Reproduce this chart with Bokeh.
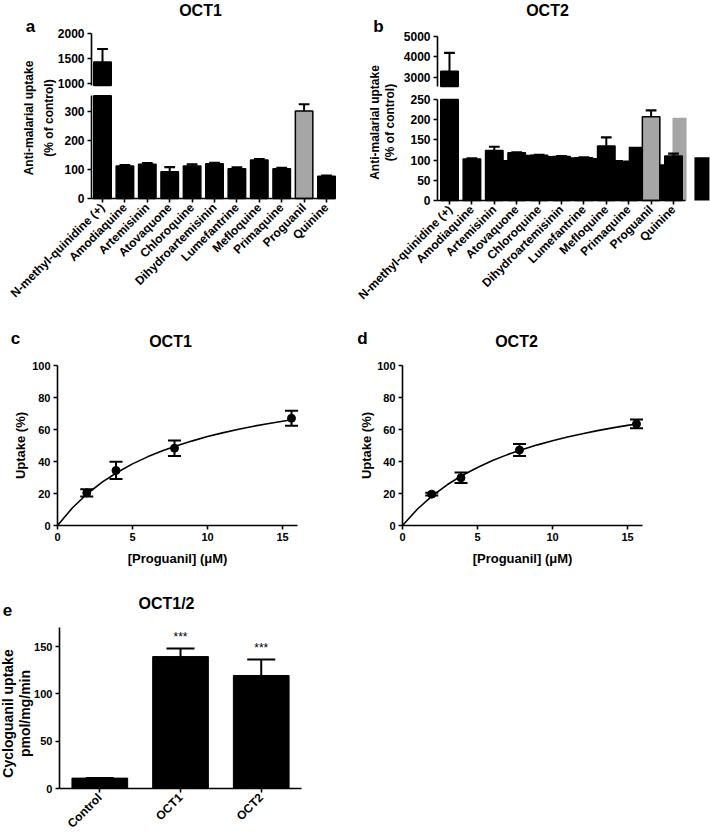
import numpy as np
from bokeh.plotting import figure
from bokeh.models import (Range1d, LinearAxis, FixedTicker, Whisker, TeeHead, ColumnDataSource)
from bokeh.layouts import row, column
from bokeh.embed import file_html
from bokeh.resources import INLINE
from bokeh.core.properties import value

FONT = "Liberation Sans"
GREY = "#a6a6a6"

# ---------------- data ----------------
drugs = ["N-methyl-quinidine (+)", "Amodiaquine", "Artemisinin", "Atovaquone", "Chloroquine",
         "Dihydroartemisinin", "Lumefantrine", "Mefloquine", "Primaquine", "Proguanil", "Quinine"]
bar_colors = ["black"] * 9 + [GREY, "black"]

oct1_uptake = [1430, 112, 118, 92, 112, 120, 103, 133, 103, 302, 77]
oct1_err = [260, 3, 4, 16, 6, 3, 4, 3, 3, 23, 2]

oct2_uptake = [3300, 103, 124, 118, 112, 109, 106, 135, 95, 207, 110]
oct2_err = [900, 1, 9, 1, 1, 1, 1, 21, 1, 16, 6]
# further bars visible in the source image of panel b
oct2_extra_x = [2.5, 3.5, 4.5, 5.5, 6.5, 7.5, 8.35, 9.45, 10.27, 11.27]
oct2_extra_val = [100, 113, 110, 107, 105, 100, 133, 90, 205, 107]
oct2_extra_w = [0.5, 0.5, 0.5, 0.5, 0.5, 0.5, 0.7, 0.35, 0.63, 0.67]
oct2_extra_col = ["black"] * 8 + [GREY, "black"]

conc = [1.95, 3.9, 7.8, 15.6]
c_uptake = [20.4, 34.4, 48.3, 67.0]
c_sem = [2.2, 5.4, 4.8, 4.7]
c_fit_x = [0, 1, 2, 3, 4, 5, 6, 7, 8, 9, 10, 11, 12, 13, 14, 15, 15.6]
c_fit_y = [0, 11.1, 20.0, 27.3, 33.3, 38.5, 42.9, 46.7, 50.0, 52.9, 55.6, 57.9, 60.0, 61.9, 63.6, 65.2, 66.1]

d_uptake = [19.6, 29.8, 47.2, 63.5]
d_sem = [0.8, 3.3, 3.8, 2.7]
d_fit_x = [0, 1, 2, 3, 4, 5, 6, 7, 8, 9, 10, 11, 12, 13, 14, 15, 15.6]
d_fit_y = [0, 10.3, 18.7, 25.6, 31.4, 36.3, 40.6, 44.3, 47.5, 50.4, 53.0, 55.3, 57.4, 59.3, 61.0, 62.6, 63.4]

e_cats = ["Control", "OCT1", "OCT2"]
e_uptake = [11, 139.5, 119.5]
e_err = [0, 8.5, 17]
e_marks = ["", "***", "***"]


# ---------------- helpers ----------------
class Panel:
    """A figure whose frame is the whole canvas; axes sit at fixed data locations."""

    def __init__(self, w, h, xr, yr):
        self.w, self.h, self.xr, self.yr = w, h, xr, yr
        p = figure(width=w, height=h, x_range=Range1d(*xr), y_range=Range1d(*yr),
                   output_backend="svg", toolbar_location=None,
                   x_axis_location=None, y_axis_location=None,
                   min_border=0, min_border_left=0, min_border_right=0,
                   min_border_top=0, min_border_bottom=0)
        p.xgrid.visible = False
        p.ygrid.visible = False
        p.outline_line_color = None
        p.background_fill_color = "white"
        p.border_fill_color = "white"
        self.p = p

    def to_data(self, X, Y):
        x = self.xr[0] + X / self.w * (self.xr[1] - self.xr[0])
        y = self.yr[1] - Y / self.h * (self.yr[1] - self.yr[0])
        return x, y

    def text(self, txt, X, Y, size="16px", angle=0.0, style="bold", lh=1.2):
        x, y = self.to_data(X, Y)
        self.p.text(x=[x], y=[y], text=[txt], angle=angle, text_align="center",
                    text_baseline="middle", text_font=value(FONT), text_font_style=style,
                    text_font_size=size, text_color="black", text_line_height=lh)


def style_axis(ax, size="12px"):
    ax.axis_line_width = 1.6
    ax.axis_line_color = "black"
    ax.major_tick_line_width = 1.6
    ax.major_tick_line_color = "black"
    ax.major_tick_out = 4
    ax.major_tick_in = 0
    ax.minor_tick_line_color = None
    ax.major_label_text_font = FONT
    ax.major_label_text_font_style = "bold"
    ax.major_label_text_font_size = size
    ax.major_label_text_color = "black"
    ax.major_label_standoff = 3


def add_axis(p, side, loc, bounds, ticks, size="12px", overrides=None, orient=None,
             y_range_name="default"):
    ax = LinearAxis(fixed_location=loc, bounds=bounds, ticker=FixedTicker(ticks=ticks),
                    y_range_name=y_range_name)
    style_axis(ax, size)
    if overrides is not None:
        ax.major_label_overrides = overrides
    if orient is not None:
        ax.major_label_orientation = orient
    p.add_layout(ax, side)
    return ax


def broken_panel(vals, errs, colors, xr, yr, hi_range, y_loc, x_end, lo_top, lo_ticks,
                 hi_bottom, hi_top, hi_ticks, w, h, extra=None):
    P = Panel(w, h, xr, yr)
    p = P.p
    p.extra_y_ranges = {"hi": Range1d(*hi_range)}
    x = np.arange(len(vals), dtype=float)
    v = np.array(vals, float)
    e = np.array(errs, float)
    broken = v > lo_top
    nb = ~broken
    if extra is not None:
        ex, ev, ew, ec = extra
        p.vbar(x=ex, top=ev, width=ew, fill_color=ec, line_color=ec, line_width=0)
    p.vbar(x=x, top=np.minimum(v, lo_top), width=0.78, fill_color=colors, line_color="black",
           line_width=1.5)
    p.vbar(x=x[broken], bottom=hi_bottom, top=v[broken], width=0.78,
           fill_color=[c for c, b in zip(colors, broken) if b], line_color="black",
           line_width=1.5, y_range_name="hi")
    cw = 0.24
    p.segment(x0=x[nb], y0=v[nb], x1=x[nb], y1=(v + e)[nb], line_color="black", line_width=2)
    p.segment(x0=x[nb] - cw, y0=(v + e)[nb], x1=x[nb] + cw, y1=(v + e)[nb],
              line_color="black", line_width=2.2)
    p.segment(x0=x[broken], y0=v[broken], x1=x[broken], y1=(v + e)[broken],
              line_color="black", line_width=2, y_range_name="hi")
    p.segment(x0=x[broken] - cw, y0=(v + e)[broken], x1=x[broken] + cw, y1=(v + e)[broken],
              line_color="black", line_width=2.2, y_range_name="hi")

    add_axis(p, "below", 0, (y_loc, x_end), list(range(len(vals))), "12px",
             overrides={i: d for i, d in enumerate(drugs)}, orient=np.pi / 4)
    add_axis(p, "left", y_loc, (0, lo_top), lo_ticks, "12px")
    add_axis(p, "left", y_loc, (hi_bottom, hi_top), hi_ticks, "12px", y_range_name="hi")
    return P


# ---------------- panel a ----------------
A = broken_panel(oct1_uptake, oct1_err, bar_colors,
                 (-4.554, 11.295), (-369.0, 682.8), (-3440, 2660),
                 -0.491, 10.4, 354, [0, 100, 200, 300], 960, 2000, [1000, 1500, 2000], 355, 305)
A.text("OCT1", 200, 10, "16px")
A.text("a", 30, 26, "17px")
A.text("Anti-malarial uptake\n(% of control)", 38.5, 117.5, "12px", angle=np.pi / 2, lh=1.37)

# ---------------- panel b ----------------
B = broken_panel(oct2_uptake, oct2_err, bar_colors,
                 (-4.196, 11.652), (-259.9, 495.0), (-8122, 6756),
                 -0.536, 10.54, 250, [0, 50, 100, 150, 200, 250], 2560, 5000, [3000, 4000, 5000],
                 355, 305, extra=(oct2_extra_x, oct2_extra_val, oct2_extra_w, oct2_extra_col))
B.text("OCT2", 192, 10, "16px")
B.text("b", 23, 26, "17px")
B.text("Anti-malarial uptake\n(% of control)", 27, 122, "12px", angle=np.pi / 2, lh=1.12)


# ---------------- panels c, d ----------------
def kinetic_panel(u, s, fx, fy, xr, title, letter, tx, lx, ylx, xlx):
    P = Panel(355, 270, xr, (-31.25, 137.5))
    p = P.p
    p.line(fx, fy, line_color="black", line_width=1.6)
    src = ColumnDataSource(dict(x=conc, lo=[a - b for a, b in zip(u, s)],
                                hi=[a + b for a, b in zip(u, s)]))
    p.add_layout(Whisker(base="x", lower="lo", upper="hi", source=src, line_width=2,
                         line_color="black",
                         lower_head=TeeHead(size=13, line_width=2, line_color="black"),
                         upper_head=TeeHead(size=13, line_width=2, line_color="black")))
    p.scatter(conc, u, size=8, color="black")
    add_axis(p, "below", 0, (0, 16), [0, 5, 10, 15], "11px")
    add_axis(p, "left", 0, (0, 100), [0, 20, 40, 60, 80, 100], "11px")
    P.text(title, tx, 36, "16px")
    P.text(letter, lx, 33, "17px")
    P.text("Uptake (%)", ylx, 140, "13px", angle=np.pi / 2)
    P.text("[Proguanil] (\u03bcM)", xlx, 253, "13px")
    return P


C = kinetic_panel(c_uptake, c_sem, c_fit_x, c_fit_y, (-3.8, 19.867), "OCT1", "c", 170, 15, 20, 177)
D = kinetic_panel(d_uptake, d_sem, d_fit_x, d_fit_y, (-3.133, 20.533), "OCT2", "d", 161, 7, 11, 167)

# ---------------- panel e ----------------
E = Panel(355, 257, (-1.2305, 3.168), (-46.5, 225.2))
pe = E.p
ex = np.arange(len(e_cats), dtype=float)
pe.vbar(x=ex, top=e_uptake, width=0.69, fill_color="black", line_color="black")
esrc = ColumnDataSource(dict(x=ex, lo=e_uptake, hi=[a + b for a, b in zip(e_uptake, e_err)]))
pe.add_layout(Whisker(base="x", lower="lo", upper="hi", source=esrc, line_width=2,
                      line_color="black", lower_head=None,
                      upper_head=TeeHead(size=28, line_width=2, line_color="black")))
pe.text(x=ex, y=[a + b + 12 for a, b in zip(e_uptake, e_err)], text=e_marks,
        text_font=value(FONT), text_font_size="12px", text_align="center",
        text_baseline="middle", text_color="black")
add_axis(pe, "below", 0, (-0.5, 2.5), [0, 1, 2], "12px",
         overrides={i: c for i, c in enumerate(e_cats)}, orient=np.pi / 4)
add_axis(pe, "left", -0.5, (0, 170), [0, 50, 100, 150], "11px")
E.text("OCT1/2", 166, 28, "16px")
E.text("e", 7, 34, "17px")
E.text("Cycloguanil uptake\npmol/mg/min", 16, 138, "14px", angle=np.pi / 2, lh=1.04)

layout = column(row(A.p, B.p), row(C.p, D.p), row(E.p))
open("out.html", "w").write(file_html(layout, INLINE))
